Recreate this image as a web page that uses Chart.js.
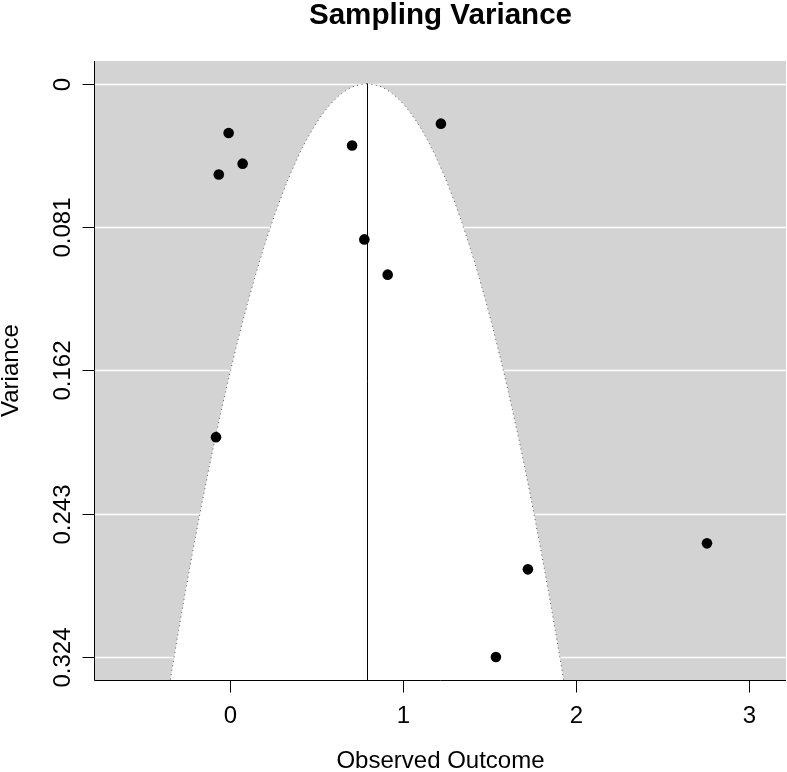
<!DOCTYPE html>
<html>
<head>
<meta charset="utf-8">
<script src="https://cdn.jsdelivr.net/npm/chart.js@4/dist/chart.umd.min.js"></script>
<style>
html,body{margin:0;padding:0;background:#fff;overflow:hidden;}
canvas{display:block;}
</style>
</head>
<body>
<canvas id="c" width="787" height="772"></canvas>
<script>
// ---- data ----
const outcomes  = [-0.008, -0.065, 0.073, 0.706, 1.220, 0.777, 0.912, -0.081, 1.723, 2.759, 1.538];
const variances = [0.0279, 0.0513, 0.0452, 0.0349, 0.0226, 0.0880, 0.1079, 0.1997, 0.2744, 0.2597, 0.3239];
const estimate = 0.792;          // pooled estimate (vertical reference line)
const xTicks = [0, 1, 2, 3];
const xTickLabels = ["0", "1", "2", "3"];
const yTicks = [0, 0.081, 0.162, 0.243, 0.324];
const yTickLabels = ["0", "0.081", "0.162", "0.243", "0.324"];
const xRange = [-0.781, 3.216];
const yRange = [-0.0128, 0.3369];
const titleText = "Sampling Variance";
const xTitle = "Observed Outcome";
const yTitle = "Variance";

const points = outcomes.map((x, i) => ({x: x, y: variances[i]}));
const FONT = "'Liberation Sans', Arial, Helvetica, sans-serif";

const funnelPlugin = {
  id: 'funnel',
  beforeDatasetsDraw(chart) {
    const ctx = chart.ctx, a = chart.chartArea;
    const xs = chart.scales.x, ys = chart.scales.y;
    ctx.save();
    // gray background
    ctx.fillStyle = '#d3d3d3';
    ctx.fillRect(a.left, a.top, a.right - a.left, a.bottom - a.top);
    // white grid lines
    ctx.strokeStyle = '#ffffff';
    ctx.lineWidth = 1.3;
    yTicks.forEach(v => {
      const py = Math.round(ys.getPixelForValue(v)) + 0.5;
      ctx.beginPath(); ctx.moveTo(a.left, py); ctx.lineTo(a.right, py); ctx.stroke();
    });
    // funnel region
    ctx.beginPath();
    ctx.rect(a.left, a.top, a.right - a.left, a.bottom - a.top);
    ctx.clip();
    const vMax = yRange[1];
    const n = 300;
    const left = [], right = [];
    for (let i = 0; i <= n; i++) {
      const v = vMax * i / n;
      const h = 1.96 * Math.sqrt(v);
      const py = ys.getPixelForValue(v);
      left.push([xs.getPixelForValue(estimate - h), py]);
      right.push([xs.getPixelForValue(estimate + h), py]);
    }
    ctx.beginPath();
    left.forEach((p, i) => i ? ctx.lineTo(p[0], p[1]) : ctx.moveTo(p[0], p[1]));
    for (let i = right.length - 1; i >= 0; i--) ctx.lineTo(right[i][0], right[i][1]);
    ctx.closePath();
    ctx.fillStyle = '#ffffff';
    ctx.fill();
    // dotted edges
    ctx.strokeStyle = '#555555';
    ctx.lineWidth = 1;
    ctx.setLineDash([1, 3.5]);
    [left, right].forEach(arr => {
      ctx.beginPath();
      arr.forEach((p, i) => i ? ctx.lineTo(p[0], p[1]) : ctx.moveTo(p[0], p[1]));
      ctx.stroke();
    });
    ctx.setLineDash([]);
    // vertical estimate line
    const cx = Math.round(xs.getPixelForValue(estimate)) + 0.5;
    ctx.strokeStyle = '#000000';
    ctx.beginPath();
    ctx.moveTo(cx, ys.getPixelForValue(0));
    ctx.lineTo(cx, a.bottom);
    ctx.stroke();
    ctx.restore();
  },
  afterDraw(chart) {
    const ctx = chart.ctx, a = chart.chartArea;
    const xs = chart.scales.x, ys = chart.scales.y;
    ctx.save();
    ctx.strokeStyle = '#000';
    ctx.lineWidth = 1;
    const L = Math.round(a.left) - 0.5, B = Math.round(a.bottom) + 0.5;
    // axis lines (left and bottom)
    ctx.beginPath();
    ctx.moveTo(L, a.top); ctx.lineTo(L, B); ctx.lineTo(a.right, B);
    ctx.stroke();
    // x ticks
    ctx.fillStyle = '#000';
    ctx.font = '24px ' + FONT;
    ctx.textAlign = 'center';
    ctx.textBaseline = 'alphabetic';
    xTicks.forEach((v, i) => {
      const px = Math.round(xs.getPixelForValue(v)) + 0.5;
      ctx.beginPath(); ctx.moveTo(px, B); ctx.lineTo(px, B + 12); ctx.stroke();
      ctx.fillText(xTickLabels[i], px, 723);
    });
    // y ticks (labels rotated, reading upward)
    yTicks.forEach((v, i) => {
      const py = Math.round(ys.getPixelForValue(v)) + 0.5;
      ctx.beginPath(); ctx.moveTo(L - 12, py); ctx.lineTo(L, py); ctx.stroke();
      ctx.save();
      ctx.translate(70, py);
      ctx.rotate(-Math.PI / 2);
      ctx.textAlign = 'center';
      ctx.fillText(yTickLabels[i], 0, 0);
      ctx.restore();
    });
    // axis titles
    ctx.textAlign = 'center';
    ctx.fillText(xTitle, (a.left + a.right) / 2, 768);
    ctx.save();
    ctx.translate(18, (a.top + a.bottom) / 2);
    ctx.rotate(-Math.PI / 2);
    ctx.fillText(yTitle, 0, 0);
    ctx.restore();
    // main title
    ctx.font = 'bold 29.6px ' + FONT;
    ctx.fillText(titleText, (a.left + a.right) / 2, 24);
    ctx.restore();
  }
};

new Chart(document.getElementById('c'), {
  type: 'scatter',
  data: {
    datasets: [{
      data: points,
      pointRadius: 5.3,
      pointHoverRadius: 5.3,
      pointBackgroundColor: '#000',
      pointBorderColor: '#000',
      pointBorderWidth: 0,
      showLine: false
    }]
  },
  options: {
    responsive: false,
    animation: false,
    devicePixelRatio: 1,
    layout: { autoPadding: false, padding: { left: 95, right: 1, top: 61, bottom: 92 } },
    plugins: { legend: { display: false }, tooltip: { enabled: false }, title: { display: false } },
    scales: {
      x: { type: 'linear', display: false, min: xRange[0], max: xRange[1] },
      y: { type: 'linear', display: false, reverse: true, min: yRange[0], max: yRange[1] }
    }
  },
  plugins: [funnelPlugin]
});
</script>
</body>
</html>
